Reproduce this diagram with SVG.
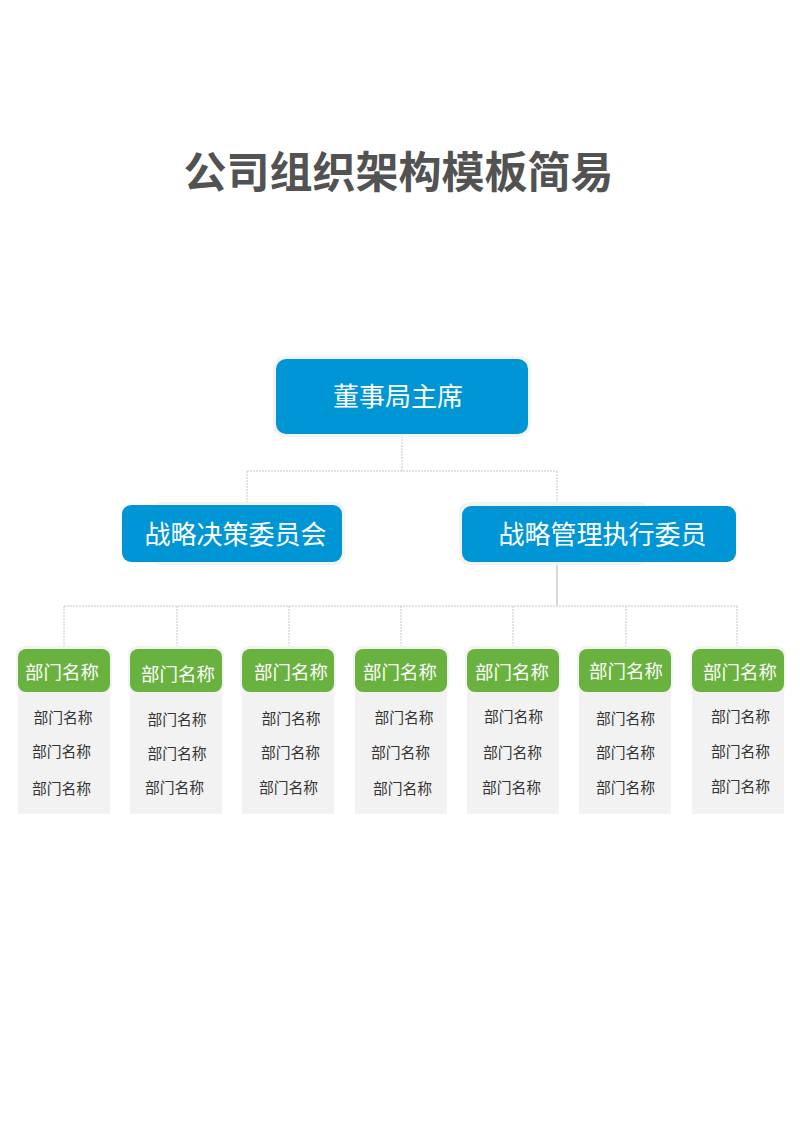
<svg xmlns="http://www.w3.org/2000/svg" width="800" height="1131" viewBox="0 0 800 1131">
<style>
.title{font-family:"Noto Sans CJK SC","Liberation Sans",sans-serif;font-size:43px;font-weight:bold;fill:#525252;text-anchor:middle}
.blue{fill:#0096d6}
.halo{fill:#f3f3f3}
.bt{font-family:"Noto Sans CJK SC","Liberation Sans",sans-serif;font-size:26px;fill:#ffffff;text-anchor:middle}
.green{fill:#6ab23f}
.grey{fill:#f2f2f2}
.gt{font-family:"Noto Sans CJK SC","Liberation Sans",sans-serif;font-size:18.5px;fill:#ffffff;text-anchor:middle}
.it{font-family:"Noto Sans CJK SC","Liberation Sans",sans-serif;font-size:14.8px;fill:#333333;text-anchor:middle}
.dash{fill:none;stroke:#c8c8c8;stroke-width:1;stroke-dasharray:2 1}
.solid{fill:none;stroke:#c0c0c0;stroke-width:1.2}
</style>
<rect width="800" height="1131" fill="#ffffff"/>
<text class="title" x="398.5" y="188">公司组织架构模板简易</text>

<g id="connectors">
<path class="dash" d="M402 436 V471 M247 471 H557 M247 471 V505 M557 471 V506"/>
<path class="solid" d="M557 562 V606"/>
<path class="dash" d="M64 606 H737 M64 606 V649 M177 606 V649 M289 606 V649 M401 606 V649 M513 606 V649 M626 606 V649 M737 606 V649"/>
</g>

<g id="root">
<rect class="halo" x="273" y="356" width="258" height="81" rx="12"/>
<rect class="blue" x="276" y="359" width="252" height="75" rx="10"/>
<text class="bt" x="398" y="406">董事局主席</text>
</g>

<g id="committee-1">
<rect class="halo" x="150" y="502" width="195" height="63" rx="10"/>
<rect class="blue" x="122" y="505" width="220" height="57" rx="9"/>
<text class="bt" x="235.5" y="544">战略决策委员会</text>
</g>

<g id="committee-2">
<rect class="halo" x="459" y="502" width="190" height="63" rx="10"/>
<rect class="blue" x="462" y="506" width="274" height="56" rx="9"/>
<text class="bt" x="602.5" y="544">战略管理执行委员</text>
</g>

<g id="dept-1">
<rect class="halo" x="16" y="646" width="96" height="48" rx="9"/>
<rect class="grey" x="18" y="690" width="92" height="124"/>
<rect class="green" x="18" y="649" width="92" height="43" rx="8"/>
<text class="gt" x="62" y="679">部门名称</text>
<text class="it" x="63" y="722.5">部门名称</text>
<text class="it" x="61.5" y="756.5">部门名称</text>
<text class="it" x="61.5" y="793.5">部门名称</text>
</g>

<g id="dept-2">
<rect class="halo" x="128" y="646" width="96" height="48" rx="9"/>
<rect class="grey" x="130" y="690" width="92" height="124"/>
<rect class="green" x="130" y="649" width="92" height="43" rx="8"/>
<text class="gt" x="178" y="681">部门名称</text>
<text class="it" x="177" y="724.5">部门名称</text>
<text class="it" x="177" y="758.5">部门名称</text>
<text class="it" x="174.5" y="792.5">部门名称</text>
</g>

<g id="dept-3">
<rect class="halo" x="240" y="646" width="96" height="48" rx="9"/>
<rect class="grey" x="242" y="690" width="92" height="124"/>
<rect class="green" x="242" y="649" width="92" height="43" rx="8"/>
<text class="gt" x="291" y="679">部门名称</text>
<text class="it" x="291" y="723.5">部门名称</text>
<text class="it" x="290.5" y="757.5">部门名称</text>
<text class="it" x="288.5" y="792.5">部门名称</text>
</g>

<g id="dept-4">
<rect class="halo" x="353" y="646" width="96" height="48" rx="9"/>
<rect class="grey" x="355" y="690" width="92" height="124"/>
<rect class="green" x="355" y="649" width="92" height="43" rx="8"/>
<text class="gt" x="400" y="679">部门名称</text>
<text class="it" x="404" y="722.5">部门名称</text>
<text class="it" x="400.5" y="757.5">部门名称</text>
<text class="it" x="402.5" y="793.5">部门名称</text>
</g>

<g id="dept-5">
<rect class="halo" x="465" y="646" width="96" height="48" rx="9"/>
<rect class="grey" x="467" y="690" width="92" height="124"/>
<rect class="green" x="467" y="649" width="92" height="43" rx="8"/>
<text class="gt" x="512" y="679">部门名称</text>
<text class="it" x="513.5" y="721.5">部门名称</text>
<text class="it" x="512.5" y="757.5">部门名称</text>
<text class="it" x="511.5" y="792.5">部门名称</text>
</g>

<g id="dept-6">
<rect class="halo" x="577" y="646" width="96" height="48" rx="9"/>
<rect class="grey" x="579" y="690" width="92" height="124"/>
<rect class="green" x="579" y="649" width="92" height="43" rx="8"/>
<text class="gt" x="626" y="678">部门名称</text>
<text class="it" x="625.5" y="723.5">部门名称</text>
<text class="it" x="625.5" y="757.5">部门名称</text>
<text class="it" x="625.5" y="792.5">部门名称</text>
</g>

<g id="dept-7">
<rect class="halo" x="690" y="646" width="96" height="48" rx="9"/>
<rect class="grey" x="692" y="690" width="92" height="124"/>
<rect class="green" x="692" y="649" width="92" height="43" rx="8"/>
<text class="gt" x="740" y="679">部门名称</text>
<text class="it" x="740.5" y="721.5">部门名称</text>
<text class="it" x="740.5" y="756.5">部门名称</text>
<text class="it" x="740.5" y="791.5">部门名称</text>
</g>
</svg>
